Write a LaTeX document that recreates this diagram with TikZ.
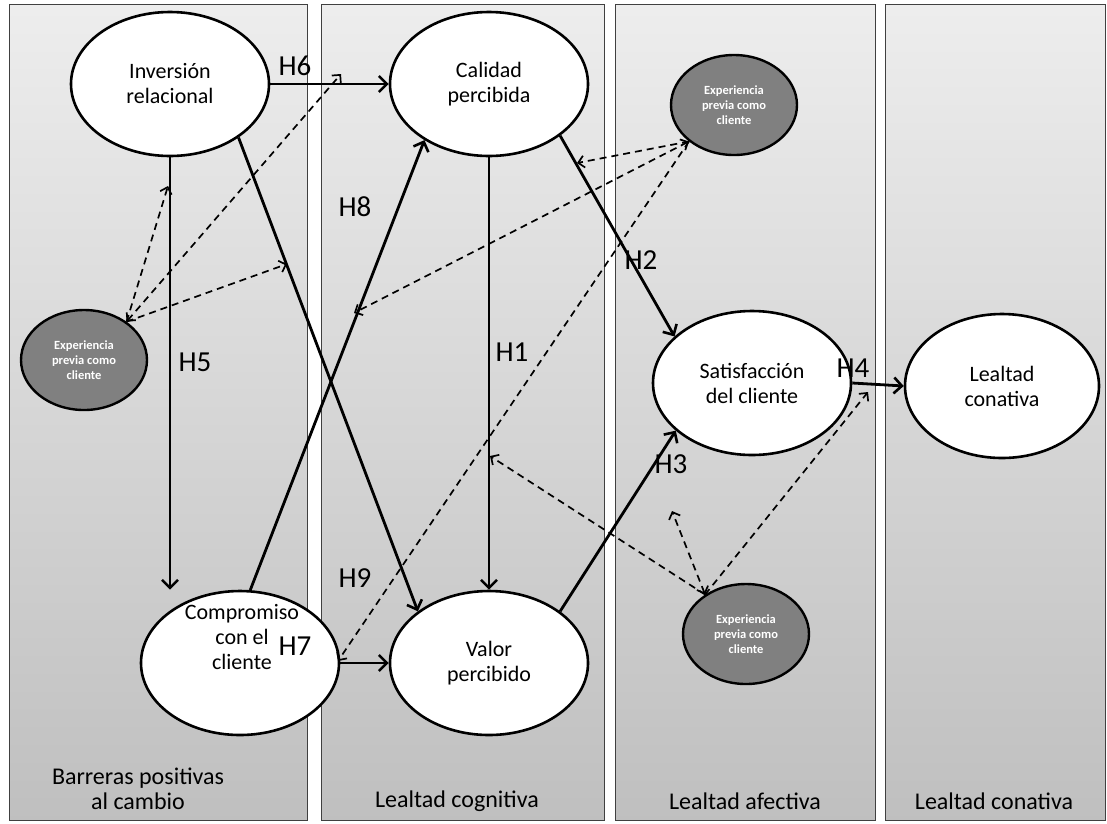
\documentclass[tikz,border=0pt]{standalone}
\usepackage{fontspec}
\setmainfont{Carlito}
\usetikzlibrary{arrows.meta,shapes.geometric}
\begin{document}
\begin{tikzpicture}[x=1pt,y=-1pt,
  panel/.style={top color=gray!14, bottom color=gray!50, draw=black!75, line width=0.8pt},
  bigell/.style={ellipse, draw=black, fill=white, line width=2.6pt, minimum width=198pt, minimum height=144pt, inner sep=0pt, align=center, font=\fontsize{22}{25}\selectfont},
  ctext/.style={align=center, inner sep=0pt, font=\fontsize{22}{25}\selectfont},
  expell/.style={ellipse, draw=black, fill=gray, line width=2.4pt, minimum width=126pt, minimum height=100pt, inner sep=0pt, align=center, text=white, font=\bfseries\fontsize{12.5}{15}\selectfont},
  hyp/.style={font=\fontsize{29}{32}\selectfont, inner sep=0pt},
  panlab/.style={font=\fontsize{24}{25.5}\selectfont, align=center, inner sep=0pt},
  solidarr/.style={line width=2.8pt, -{Straight Barb[length=8pt,width=16pt,line width=2.6pt]}},
  dasharr/.style={line width=1.7pt, dash pattern=on 7pt off 5pt, -{Straight Barb[length=6pt,width=12pt,line width=1.7pt]}},
  dashboth/.style={line width=1.7pt, dash pattern=on 7pt off 5pt, {Straight Barb[length=6pt,width=12pt,line width=1.7pt]}-{Straight Barb[length=6pt,width=12pt,line width=1.7pt]}}
]
\useasboundingbox[fill=white] (0,0) rectangle (1107,823);
% panels
\shade[panel] (9,4) rectangle (307,820);
\shade[panel] (321,4) rectangle (604,820);
\shade[panel] (615,4) rectangle (875,820);
\shade[panel] (885,4) rectangle (1105,820);
% panel labels
\node[panlab] (pl1) at (138,789) {Barreras positivas\\al cambio};
\node[panlab] (pl2) at (457,801) {Lealtad cognitiva};
\node[panlab] (pl3) at (745,801) {Lealtad afectiva};
\node[panlab] (pl4) at (994,801) {Lealtad conativa};
% main constructs
\node[bigell] (inv) at (170,84) {Inversión\\relacional};
\node[bigell] (cal) at (489,84) {Calidad\\percibida};
\node[bigell] (comp) at (240,663) {};
\node[ctext] (compt) at (242,637) {Compromiso\\con el\\cliente};
\node[bigell] (val) at (489,663) {Valor\\percibido};
\node[bigell] (sat) at (752,383) {Satisfacción\\del cliente};
\node[bigell, minimum width=194pt] (lc) at (1002,386) {Lealtad\\conativa};
% moderators
\node[expell] (exl) at (84,360) {Experiencia\\previa como\\cliente};
\node[expell] (ext) at (734,105) {Experiencia\\previa como\\cliente};
\node[expell] (exb) at (746,634) {Experiencia\\previa como\\cliente};
% solid paths
\draw[solidarr] (inv.east) -- (cal.west);
\draw[solidarr] (inv.south) -- (inv.south |- comp.north);
\draw[solidarr] (inv.-38) -- (val.144);
\draw[solidarr] (comp.82) -- (cal.-139);
\draw[solidarr] (comp.east) -- (val.west);
\draw[solidarr] (cal.south) -- (val.north);
\draw[solidarr] (cal.-36) -- (sat.149);
\draw[solidarr] (val.36) -- (sat.-148);
\draw[solidarr] (sat.east) -- (lc.west);
% labels
\node[hyp] (h6) at (295,66) {H6};
\node[hyp] (h8) at (355,207) {H8};
\node[hyp] (h5) at (195,362) {H5};
\node[hyp] (h1) at (512,352) {H1};
\node[hyp] (h2) at (641,260) {H2};
\node[hyp] (h9) at (355,578) {H9};
\node[hyp] (h7) at (295,646) {H7};
\node[hyp] (h3) at (671,464) {H3};
\node[hyp] (h4) at (853,368) {H4};
% dashed moderation arrows: targets
\coordinate (l1) at (168,186);
\coordinate (l2) at (341,74);
\coordinate (l3) at (287,264);
\coordinate (t1) at (577,163);
\coordinate (t2) at (354,313);
\coordinate (t3) at (338,661);
\coordinate (b1) at (490,456);
\coordinate (b2) at (672,511);
\coordinate (b3) at (868,392);
\draw[dasharr] (exl.42) -- (l1);
\draw[dashboth] (exl.42) -- (l2);
\draw[dasharr] (exl.42) -- (l3);
\draw[dasharr] (ext.-141) -- (t1);
\draw[dashboth] (ext.-141) -- (t2);
\draw[dasharr] (ext.-141) -- (t3);
\draw[dasharr] (exb.136) -- (b1);
\draw[dashboth] (exb.136) -- (b2);
\draw[dasharr] (exb.136) -- (b3);
\end{tikzpicture}
\end{document}
